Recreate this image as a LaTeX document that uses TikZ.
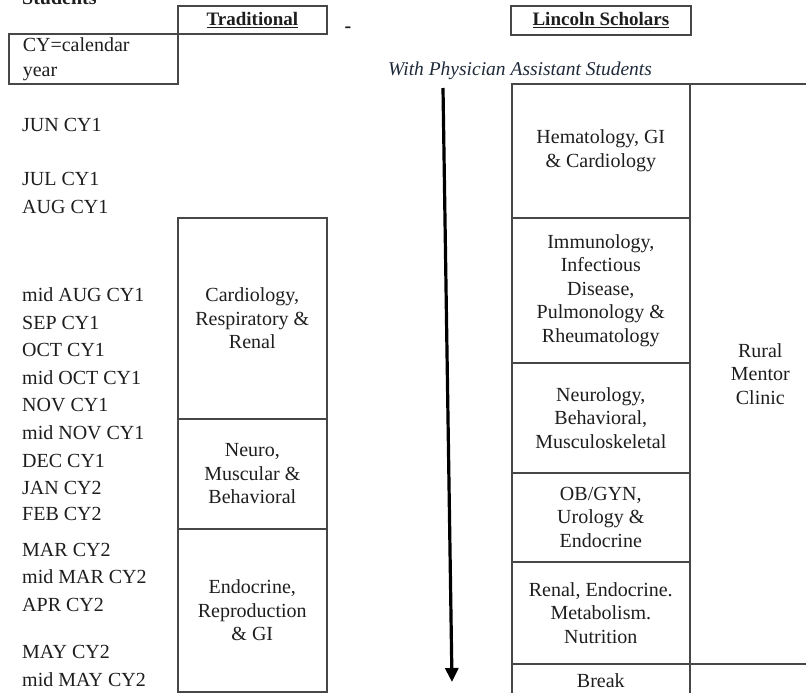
\documentclass[tikz,border=0pt]{standalone}
\usepackage{fontspec}
\setmainfont{Liberation Serif}
\usetikzlibrary{arrows.meta}
\definecolor{ln}{HTML}{474747}
\definecolor{tx}{HTML}{1E1E1E}
\definecolor{itc}{HTML}{1F2A3A}
\begin{document}
\begin{tikzpicture}[x=1pt,y=-1pt,
  box/.style={draw=ln, line width=1.6pt, inner sep=0pt, align=center, anchor=north west, text=tx, font=\fontsize{20}{23.5}\selectfont},
  mon/.style={anchor=west, text=tx, font=\fontsize{20}{24}\selectfont, inner sep=0pt},
  headbox/.style={draw=ln, line width=1.8pt, inner sep=0pt, anchor=north west, text=tx, font=\bfseries\fontsize{19}{22}\selectfont}]
\useasboundingbox (0,0) rectangle (806,693);
\clip (0,0) rectangle (806,693);
\fill[white] (0,0) rectangle (806,693);

% top texts
\node[anchor=base west, inner sep=0pt, text=tx, font=\bfseries\fontsize{20}{24}\selectfont] (stud) at (22,5) {Students};
\node[headbox, minimum width=149pt, minimum height=28pt] (trad) at (177,5) {\underline{Traditional}};
\node[headbox, minimum width=180pt, minimum height=29pt] (linc) at (510,5) {\underline{Lincoln Scholars}};
\node[inner sep=0pt, text=tx, font=\bfseries\fontsize{20}{24}\selectfont] (dash) at (348,30) {-};
\node[draw=ln, line width=1.6pt, anchor=north west, inner xsep=14pt, inner ysep=0pt, text width=141pt, minimum height=50pt, align=left, text=tx, font=\fontsize{20}{25}\selectfont] (cy) at (8,33) {CY=calendar\\year};
\node[anchor=west, inner sep=0pt, text=itc, font=\itshape\fontsize{19.5}{23}\selectfont] (pa) at (388,71) {With Physician Assistant Students};

% months
\node[mon] (m1) at (22,125) {JUN CY1};
\node[mon] (m2) at (22,179) {JUL CY1};
\node[mon] (m3) at (22,207) {AUG CY1};
\node[mon] (m4) at (22,295) {mid AUG CY1};
\node[mon] (m5) at (22,323) {SEP CY1};
\node[mon] (m6) at (22,350) {OCT CY1};
\node[mon] (m7) at (22,378) {mid OCT CY1};
\node[mon] (m8) at (22,405) {NOV CY1};
\node[mon] (m9) at (22,433) {mid NOV CY1};
\node[mon] (m10) at (22,461) {DEC CY1};
\node[mon] (m11) at (22,488) {JAN CY2};
\node[mon] (m12) at (22,514) {FEB CY2};
\node[mon] (m13) at (22,550) {MAR CY2};
\node[mon] (m14) at (22,577) {mid MAR CY2};
\node[mon] (m15) at (22,605) {APR CY2};
\node[mon] (m16) at (22,652) {MAY CY2};
\node[mon] (m17) at (22,680) {mid MAY CY2};

% traditional blocks
\node[box, minimum width=149pt, minimum height=201pt] (cardio) at (177,217) {Cardiology,\\Respiratory \&\\Renal};
\node[box, minimum width=149pt, minimum height=110pt] (neuro) at (177,418) {Neuro,\\Muscular \&\\Behavioral};
\node[box, minimum width=149pt, minimum height=163pt] (endo) at (177,528) {Endocrine,\\Reproduction\\\& GI};

% arrow
\coordinate (atop) at (443,88);
\coordinate (abot) at (452,682);
\draw[line width=3.2pt, -{Triangle[length=14pt,width=13pt]}] (atop) -- (abot);

% Lincoln blocks
\node[box, minimum width=178pt, minimum height=134pt] (hema) at (511,83) {Hematology, GI\\\& Cardiology};
\node[box, minimum width=178pt, minimum height=145pt] (immuno) at (511,217) {Immunology,\\Infectious\\Disease,\\Pulmonology \&\\Rheumatology};
\node[box, minimum width=178pt, minimum height=110pt] (neurol) at (511,362) {Neurology,\\Behavioral,\\Musculoskeletal};
\node[box, minimum width=178pt, minimum height=89pt] (obgyn) at (511,472) {OB/GYN,\\Urology \&\\Endocrine};
\node[box, minimum width=178pt, minimum height=102pt] (renal) at (511,561) {Renal, Endocrine.\\Metabolism.\\Nutrition};
\node[box, minimum width=178pt, minimum height=34pt] (brk) at (511,663) {Break};
\node[box, minimum width=141pt, minimum height=580pt] (rural) at (689,83) {Rural\\Mentor\\Clinic};
\node[box, minimum width=141pt, minimum height=34pt] (rbot) at (689,663) {};
\end{tikzpicture}
\end{document}
